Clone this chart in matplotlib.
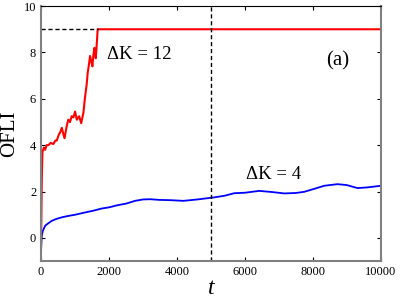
import numpy as np
import matplotlib
matplotlib.use('Agg')
import matplotlib.pyplot as plt

plt.rcParams['font.family'] = ['Liberation Serif', 'DejaVu Serif']
plt.rcParams['mathtext.fontset'] = 'stix'

# Curva vermelha (Delta K = 12)
t_red = [0, 20, 40, 80, 120, 160, 215, 280, 360, 420, 460, 520, 560, 610, 650,
         690, 750, 800, 850, 900, 950, 1000, 1050, 1120, 1180, 1245, 1295, 1340,
         1370, 1410, 1440, 1480, 1510, 1540, 1570, 1610, 1640, 1665, 10000]
y_red = [0.0, 2.5, 3.7, 3.9, 3.8, 4.0, 4.0, 4.1, 4.05, 4.2, 4.2, 4.45, 4.55, 4.75, 4.5,
         4.3, 4.8, 5.1, 5.0, 5.25, 5.2, 5.45, 5.1, 5.25, 4.95, 5.4, 6.1, 6.6,
         7.1, 7.5, 7.85, 7.6, 7.4, 7.9, 8.2, 7.75, 8.4, 9.0, 9.0]

# Curva azul (Delta K = 4)
t_blue = [0, 20, 50, 120, 200, 315, 450, 609, 800, 1000, 1294, 1550, 1785, 2000,
          2275, 2500, 2765, 3000, 3206, 3500, 3800, 4186, 4600, 5097, 5400, 5686,
          6000, 6421, 6800, 7157, 7500, 7745, 8000, 8333, 8726, 9000, 9314, 9600, 10000]
y_blue = [-0.5, 0.1, 0.3, 0.53, 0.62, 0.74, 0.82, 0.89, 0.95, 1.0, 1.1, 1.18, 1.27, 1.32,
          1.42, 1.48, 1.6, 1.66, 1.67, 1.64, 1.63, 1.6, 1.66, 1.75, 1.82, 1.93,
          1.95, 2.03, 1.98, 1.92, 1.94, 1.99, 2.1, 2.25, 2.32, 2.28, 2.15, 2.18, 2.25]

t_sat = 1665   # onde a OFLI satura
y_sat = 9.0
t_mark = 5000  # linha vertical tracejada

fig = plt.figure(figsize=(4.03, 3.04), dpi=100)
ax = fig.add_axes([0.102, 0.141, 0.843, 0.839])

ax.plot(t_blue, y_blue, color='blue', lw=1.3)
ax.plot(t_red, y_red, color='red', lw=1.5)
ax.plot([0, t_sat], [y_sat, y_sat], color='black', ls='--', lw=1.0, dashes=(3, 2))
ax.axvline(t_mark, color='black', ls='--', lw=1.0, dashes=(3, 2))

ax.set_xlim(0, 10000)
ax.set_ylim(-1, 10)
ax.set_xticks([0, 2000, 4000, 6000, 8000, 10000])
ax.set_yticks([0, 2, 4, 6, 8, 10])
ax.tick_params(direction='in', top=True, right=True, labelsize=9, length=3)

for s in ['left', 'right', 'bottom']:
    ax.spines[s].set_color('#808080')
    ax.spines[s].set_linewidth(1.5)
ax.spines['top'].set_color('black')

ax.set_xlabel('t', fontsize=17, fontstyle='italic', labelpad=0)
ax.set_ylabel('OFLI', fontsize=15, labelpad=3)

ax.text(1940, 7.72, 'ΔK = 12', fontsize=13.5)
ax.text(6030, 2.53, 'ΔK = 4', fontsize=13.5)
ax.text(8380, 7.64, '(a)', fontsize=15, va='center')

fig.savefig('out.png', dpi=100)
